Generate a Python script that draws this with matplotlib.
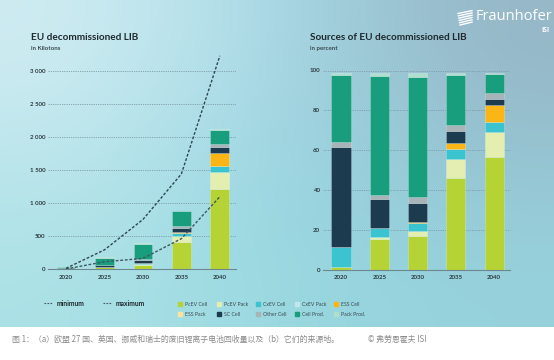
import numpy as np
import matplotlib
matplotlib.use("Agg")
import matplotlib.pyplot as plt
from matplotlib.lines import Line2D
from matplotlib.patches import Rectangle

years = ["2020", "2025", "2030", "2035", "2040"]
categories = ["PcEV Cell", "PcEV Pack", "CxEV Cell", "CxEV Pack", "ESS Cell",
              "ESS Pack", "SC Cell", "Other Cell", "Cell Prod.", "Pack Prod."]
colors = ["#b5d334", "#e3eeb0", "#3bc4d0", "#c3e6ec", "#fbb615",
          "#fde3a0", "#1c3b4f", "#a8b4b8", "#189e7c", "#b0dfcf"]

# left chart: kilotons per source (rows = categories, cols = years)
kt_pcev_cell = [0.5, 27, 68, 411, 1207]
kt_pcev_pack = [0, 2, 10, 83, 258]
kt_cxev_cell = [3, 8, 15, 45, 100]
kt_cxev_pack = [0, 0, 0, 0, 0]
kt_ess_cell = [0, 0, 3, 27, 188]
kt_ess_pack = [0, 0, 0, 0, 0]
kt_sc_cell = [15, 26, 38, 55, 91]
kt_other_cell = [1, 4, 12, 26, 50]
kt_cell_prod = [10, 106, 240, 225, 212]
kt_pack_prod = [0.3, 2.5, 8, 8, 8]
kt_minimum = [0, 110, 160, 460, 1095]
kt_maximum = [10, 290, 750, 1440, 3230]

# right chart: percent per source
pct_pcev_cell = [1.4, 15.2, 17.0, 46.1, 56.7]
pct_pcev_pack = [0, 1.0, 2.5, 9.3, 12.5]
pct_cxev_cell = [9.8, 4.5, 3.7, 5.0, 4.9]
pct_cxev_pack = [0, 0, 0, 0, 0]
pct_ess_cell = [0, 0, 0.7, 3.0, 8.4]
pct_ess_pack = [0, 0, 0, 0, 0]
pct_sc_cell = [50.2, 14.6, 9.7, 6.2, 3.4]
pct_other_cell = [2.8, 2.1, 3.0, 2.9, 2.6]
pct_cell_prod = [33.7, 59.8, 60.0, 25.2, 9.7]
pct_pack_prod = [0.7, 1.4, 2.0, 0.9, 0.4]

left_tick_vals = [0, 500, 1000, 1500, 2000, 2500, 3000]
left_tick_labels = ["0", "500", "1 000", "1 500", "2 000", "2 500", "3 000"]
right_tick_vals = [0, 20, 40, 60, 80, 100]

kt_series = [kt_pcev_cell, kt_pcev_pack, kt_cxev_cell, kt_cxev_pack, kt_ess_cell,
             kt_ess_pack, kt_sc_cell, kt_other_cell, kt_cell_prod, kt_pack_prod]
pct_series = [pct_pcev_cell, pct_pcev_pack, pct_cxev_cell, pct_cxev_pack, pct_ess_cell,
              pct_ess_pack, pct_sc_cell, pct_other_cell, pct_cell_prod, pct_pack_prod]

W, H = 554, 360
fig = plt.figure(figsize=(W / 100, H / 100), dpi=100)
fig.patch.set_facecolor("white")

def rect(x0, y0, x1, y1):
    return [x0 / W, 1 - y1 / H, (x1 - x0) / W, (y1 - y0) / H]

# gradient background panel
bg = fig.add_axes(rect(0, 0, W, 327))
grid = np.array([
    [[208, 236, 242], [165, 218, 230], [150, 182, 198]],
    [[188, 230, 236], [152, 214, 226], [150, 196, 210]],
    [[172, 226, 230], [152, 216, 224], [150, 210, 220]],
], dtype=float) / 255
bg.imshow(grid, aspect="auto", interpolation="bicubic", extent=[0, 1, 0, 1])
bg.set_axis_off()

FONT = "Lato"
tick_col = "#2b3a40"
grid_col = "#7f9ea8"

def style_axes(ax, tick_vals, tick_labels, ymax):
    ax.set_facecolor("none")
    for s in ["top", "right", "left"]:
        ax.spines[s].set_visible(False)
    ax.spines["bottom"].set_color("#6f8790")
    ax.spines["bottom"].set_linewidth(0.8)
    ax.set_ylim(0, ymax)
    ax.set_yticks(tick_vals)
    ax.set_yticklabels(tick_labels, fontsize=4.4, fontweight="bold", color=tick_col, family=FONT)
    ax.set_xticks(range(len(years)))
    ax.set_xticklabels(years, fontsize=4.4, fontweight="bold", color=tick_col, family=FONT)
    ax.tick_params(axis="both", length=0, pad=2)
    ax.tick_params(axis="x", pad=4)
    for v in tick_vals[1:]:
        ax.axhline(v, color=grid_col, lw=0.6, ls=(0, (1.5, 1.2)), zorder=0.5)

def stacked(ax, series, width):
    x = np.arange(len(years))
    bottom = np.zeros(len(years))
    for vals, c in zip(series, colors):
        v = np.array(vals, dtype=float)
        ax.bar(x, v, width, bottom=bottom, color=c, edgecolor=(1, 1, 1, 0.35),
               linewidth=0.4, zorder=2)
        bottom += v

# left chart
axL = fig.add_axes(rect(48, 51.2, 236, 269))
axL.set_xlim(-0.468, 4.42)
style_axes(axL, left_tick_vals, left_tick_labels, 3300)
stacked(axL, kt_series, 0.49)
x = np.arange(len(years))
axL.plot(x, kt_minimum, color="#3d5660", lw=1.0, ls=(0, (2, 1.3)), zorder=3)
axL.plot(x, kt_maximum, color="#2f4650", lw=1.0, ls=(0, (2, 1.3)), zorder=3)

# right chart
axR = fig.add_axes(rect(323, 70.5, 510, 269.5))
axR.set_xlim((323 - 341) / 38.3, (510 - 341) / 38.3)
style_axes(axR, right_tick_vals, [str(v) for v in right_tick_vals], 100)
stacked(axR, pct_series, 0.5)

# titles
title_col = "#1e2a2e"
fig.text(31 / W, 1 - 38 / H, "EU decommissioned LIB", fontsize=7.2, fontweight="bold",
         color=title_col, family=FONT, va="center")
fig.text(31 / W, 1 - 48.5 / H, "in Kilotons", fontsize=4.4, fontweight="bold",
         color="#3a4a50", family=FONT, va="center")
fig.text(310 / W, 1 - 38 / H, "Sources of EU decommissioned LIB", fontsize=7.2,
         fontweight="bold", color=title_col, family=FONT, va="center")
fig.text(310 / W, 1 - 48.5 / H, "in percent", fontsize=4.4, fontweight="bold",
         color="#3a4a50", family=FONT, va="center")

# Fraunhofer logo
fig.text(476 / W, 1 - 17 / H, "Fraunhofer", fontsize=10.5, color="white",
         family="Open Sans", va="center", ha="left")
fig.text(549 / W, 1 - 31 / H, "ISI", fontsize=4.8, color="white", family="Open Sans",
         va="center", ha="right", fontweight="bold")
for k in range(6):
    y0 = 11 + k * 2.3
    fig.add_artist(Line2D([(458 + 0.4 * k) / W, (472) / W],
                          [1 - (y0 + 2.5) / H, 1 - (y0 - 0.4) / H],
                          color="white", lw=1.0, transform=fig.transFigure))

# line legend
leg_col = "#1e2a2e"
for x0, label in [(44, "minimum"), (103, "maximum")]:
    fig.add_artist(Line2D([x0 / W, (x0 + 9) / W], [1 - 303 / H] * 2, color="#44575e",
                          lw=0.8, ls=(0, (1.5, 1.2)), transform=fig.transFigure))
    fig.text((x0 + 13) / W, 1 - 303 / H, label, fontsize=4.9, fontweight="bold",
             color=leg_col, family=FONT, va="center")

# category legend
col_x = [178, 217, 256, 295, 334]
row_y = [304, 314]
for i, (cat, c) in enumerate(zip(categories, colors)):
    cx = col_x[i % 5]
    cy = row_y[i // 5]
    fig.add_artist(Rectangle((cx / W, 1 - (cy + 2) / H), 4 / W, 4 / H, color=c,
                             transform=fig.transFigure))
    fig.text((cx + 7) / W, 1 - cy / H, cat, fontsize=3.7, color="#3a4a50",
             family=FONT, va="center")

# caption
fig.text(12 / W, 1 - 339 / H,
         "图 1：（a）欧盟 27 国、英国、挪威和瑞士的废旧锂离子电池回收量以及（b）它们的来源地。",
         fontsize=5.7, color="#8a8a8a", family=["Noto Sans CJK SC", "DejaVu Sans"],
         va="center")
fig.text(368 / W, 1 - 339 / H, "© 弗劳恩霍夫 ISI", fontsize=5.7, color="#8a8a8a",
         family=["Noto Sans CJK SC", "DejaVu Sans"], va="center")

fig.savefig("out.png", dpi=100)
